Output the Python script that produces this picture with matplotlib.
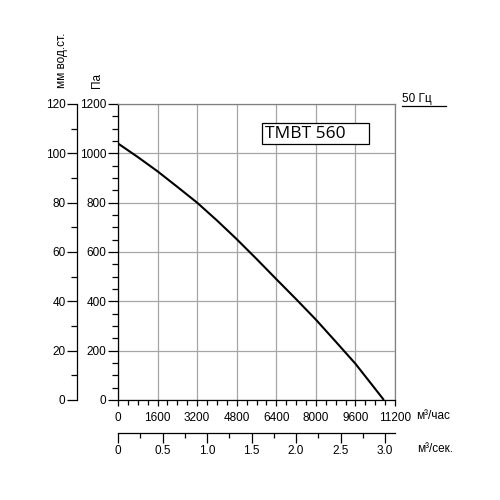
import matplotlib
matplotlib.use('Agg')
import matplotlib.pyplot as plt
from matplotlib.ticker import MultipleLocator, FixedLocator, FixedFormatter
from matplotlib.patches import Rectangle
from matplotlib.lines import Line2D

# ---- data ----
flow_m3h = [0, 800, 1600, 2400, 3200, 4000, 4800, 5600, 6400, 7200, 8000, 8800, 9600, 10400, 10750]
pressure_pa = [1040, 985, 927, 864, 800, 728, 652, 572, 490, 409, 326, 237, 147, 45, 0]

x_ticks = [0, 1600, 3200, 4800, 6400, 8000, 9600, 11200]
x_labels = ['0', '1600', '3200', '4800', '6400', '8000', '9600', '11200']
pa_ticks = [0, 200, 400, 600, 800, 1000, 1200]
mm_ticks = [0, 20, 40, 60, 80, 100, 120]
sec_ticks = [0, 0.5, 1.0, 1.5, 2.0, 2.5, 3.0]
sec_labels = ['0', '0.5', '1.0', '1.5', '2.0', '2.5', '3.0']
model_name = 'ТМВТ 560'
freq_label = '50 Гц'

plt.rcParams['font.family'] = ['Liberation Sans', 'DejaVu Sans']
FS = 8.5
W = H = 500.0

def fx(px):
    return px / W

def fy(py):
    return 1 - py / H

fig = plt.figure(figsize=(5, 5), dpi=100)
fig.patch.set_facecolor('white')

L, R, T, B = 118, 395, 104, 400
ax = fig.add_axes([fx(L), fy(B), (R - L) / W, (B - T) / H])
ax.set_xlim(0, 11200)
ax.set_ylim(0, 1200)
ax.xaxis.set_major_locator(FixedLocator(x_ticks))
ax.xaxis.set_major_formatter(FixedFormatter(x_labels))
ax.xaxis.set_minor_locator(MultipleLocator(400))
ax.yaxis.set_major_locator(FixedLocator(pa_ticks))
ax.yaxis.set_minor_locator(MultipleLocator(50))
ax.grid(True, which='major', color='#a6a6a6', lw=0.9, zorder=0)
ax.set_axisbelow(True)
for s in ['left', 'bottom']:
    ax.spines[s].set_color('black')
    ax.spines[s].set_linewidth(0.9)
for s in ['top', 'right']:
    ax.spines[s].set_color('#808080')
    ax.spines[s].set_linewidth(0.9)
ax.tick_params(axis='y', which='major', direction='out', length=7.2, width=0.9, pad=1, labelsize=FS)
ax.tick_params(axis='y', which='minor', direction='out', length=4.3, width=0.9)
ax.tick_params(axis='x', which='major', direction='out', length=4.3, width=0.9, pad=4, labelsize=FS)
ax.tick_params(axis='x', which='minor', direction='out', length=3.6, width=0.9)

ax.plot(flow_m3h, pressure_pa, color='black', lw=1.5, zorder=3, solid_capstyle='butt')

# model box
rx0, rx1, ry0, ry1 = 261.7, 369.3, 123.3, 144.3
fig.patches.append(Rectangle((fx(rx0), fy(ry1)), (rx1 - rx0) / W, (ry1 - ry0) / H,
                             transform=fig.transFigure, facecolor='white',
                             edgecolor='black', lw=0.9, zorder=5))
fig.text(fx(265), fy(134), model_name, family='Open Sans', fontsize=12.5,
         va='center', ha='left', zorder=6)

# left mm axis
axm = fig.add_axes([fx(77), fy(B), 0.001, (B - T) / H])
axm.set_ylim(0, 120)
axm.patch.set_visible(False)
for s in ['top', 'right', 'bottom']:
    axm.spines[s].set_visible(False)
axm.spines['left'].set_linewidth(0.9)
axm.set_xticks([])
axm.yaxis.set_major_locator(FixedLocator(mm_ticks))
axm.yaxis.set_minor_locator(MultipleLocator(10))
axm.tick_params(axis='y', which='major', direction='out', length=7.2, width=0.9, pad=1, labelsize=FS)
axm.tick_params(axis='y', which='minor', direction='out', length=4.3, width=0.9)

# bottom m3/s axis
axs = fig.add_axes([fx(L), fy(433), (R - L) / W, 0.001])
axs.set_xlim(0, 11200 / 3600)
axs.patch.set_visible(False)
for s in ['top', 'right', 'left']:
    axs.spines[s].set_visible(False)
axs.spines['bottom'].set_linewidth(0.9)
axs.set_yticks([])
axs.xaxis.set_major_locator(FixedLocator(sec_ticks))
axs.xaxis.set_major_formatter(FixedFormatter(sec_labels))
axs.xaxis.set_minor_locator(MultipleLocator(0.25))
axs.tick_params(axis='x', which='major', direction='out', length=7.2, width=0.9, pad=1.5, labelsize=FS)
axs.tick_params(axis='x', which='minor', direction='out', length=3.6, width=0.9)

# texts
fig.text(fx(62), fy(88), 'мм вод.ст.', rotation=90, fontsize=FS, ha='center', va='bottom')
fig.text(fx(97), fy(88), 'Па', rotation=90, fontsize=FS, ha='center', va='bottom')
fig.text(fx(416), fy(416), 'м³/час', fontsize=FS, ha='left', va='center')
fig.text(fx(417), fy(449), 'м³/сек.', fontsize=FS, ha='left', va='center')
fig.text(fx(402), fy(99), freq_label, fontsize=FS, ha='left', va='center')
fig.add_artist(Line2D([fx(402), fx(446)], [fy(106), fy(106)], transform=fig.transFigure,
                      color='black', lw=0.9))

fig.savefig('out.png', dpi=100, facecolor='white')
